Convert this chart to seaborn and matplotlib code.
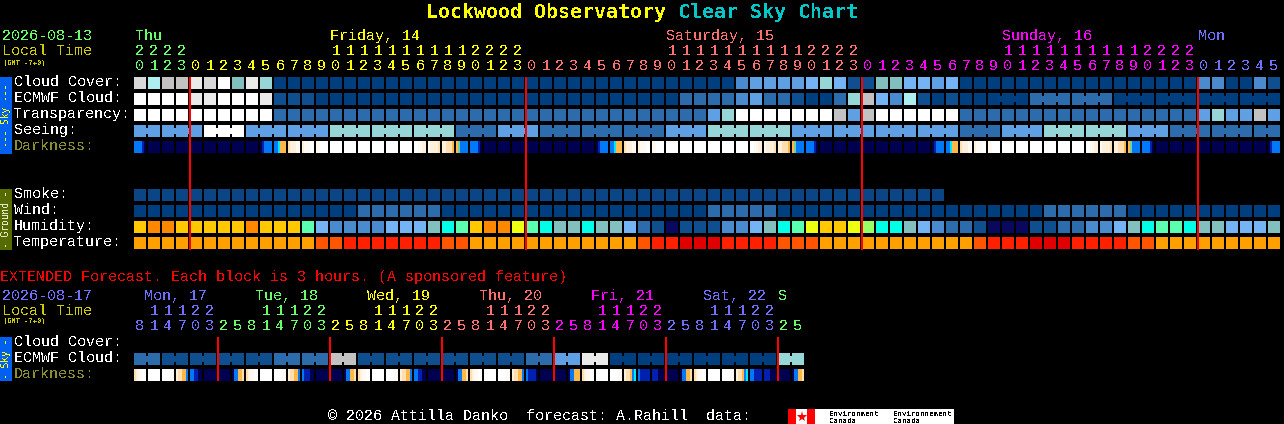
import matplotlib
matplotlib.use("Agg")
import matplotlib.pyplot as plt
from matplotlib.colors import ListedColormap
from matplotlib.patches import Rectangle
import numpy as np
import seaborn as sns

# Clear Sky Chart: every block is one code letter, see the palettes below
cloud_cover = """DAGGEDWKET QQQQQQQQQQ QQQQQQQQQQ QQQQQQQQQQ QQQNMMMMLT
LPPKKLLMLQ QQQQQQQQQQ QQQQQQNNQQ NP"""
ecmwf_cloud = """WWWWEEWWWE PPPQQQQQQQ QQQQQQQQQQ QQQQQQQQQO OOONMOOPQQ
OTGLNAPQPQ QQQQOOOOOO QQQQQQQQQQ QQ"""
transparency = """WWWWWWWWWW OOOOOOOOOO OOOOOOOOOO OOOOOOOOOO OMTWWWWWWW
GMGWWWWWWO OOOOOOOOOO OOOOOOMTMM GM"""
seeing = """MMMMMWWWMM MMMMTTTTTT TTTOOOMMMO OOOOOOOOMM MTTTTTTMMM
MMMMMMMMMO OOMMMTTTTT TMMMOOOOOO OO"""
smoke = """SSSSSSSSSS SSSSSSSSSS SSSSSSSSSS SSSSSSSSSS SSSSSSSSSS
SSSSSSSS.. .......... .......... .."""
wind = """QQQQQQQQQQ QQQQQQOOOO OOQQQQQQQQ QQQQQQQQQQ QOOOOOQQQQ
QQQQQQQQQQ QQQQQOOOOO OQQQQQQQQQ QQ"""
humidity = """yooyyyyyoy yygLNNNNLL LKcgyoolgc KKcKKLOPnP PPNNLKcgly
ylhccKLNOO PnnnPPOONN LKcggcKKLL LK"""
temperature = """aaaaaaaaaa aaabbrrrrr rrbbaaaaaa aaaaaabrrd ddrrrrbbba
aaaaaaaaaa brrrdddrrr rbbaaaaaaa aa"""

# darkness changes inside a block, so each block has six samples
darkness = """BBBBbn nnnnnn nnnnnn nnnnnn nnnnnn nnnnnn nnnnnn nnnnnn nnnnnn nbBBBB
BBcooo pqqqrr qrrrWW rrWWWW WWWWWW WWWWWW WWWWWW WWWWWW WWWWWW WWWWWW
WWrrqq rqqqqp qqpppo ogBBBB BBBBbn nnnnnn nnnnnn nnnnnn nnnnnn nnnnnn
nnnnnn nnnnnn nnnnnn nbBBBB BBcooo pqqqrr qrrrWW rrWWWW WWWWWW WWWWWW
WWWWWW WWWWWW WWWWWW WWWWWW WWrrqq rqqqqp qqpppo ogBBBB BBBBbn nnnnnn
nnnnnn nnnnnn nnnnnn nnnnnn nnnnnn nnnnnn nnnnnn nbBBBB BBcooo pqqqrr
qrrrWW rrWWWW WWWWWW WWWWWW WWWWWW WWWWWW WWWWWW WWWWWW WWrrqq rqqqqp
qqpppo ogBBBB BBBBbn nnnnnn nnnnnn nnnnnn nnnnnn nnnnnn nnnnnn nnnnnn
nnnnnn nbBBBB""".split()

ext_ecmwf = """OOPPPPPPPP OOOOGGPPPP PPPPPPPPOO MMEEQQQQQQ QQQQQQTT"""
ext_darkness = """pqrrWW WWWWWW WWWWrr qppooB BBbbnn nnnnnn nnnnnn nBBoop
pqrrWW WWWWWW WWWWrr qppooB Bbbbnn nnnnnn nnnnnn nBBoop
pqrrWW WWWWWW WWWWrr qppooB BBbbnn nnnnnn nnnnnn nBBoop
pqrrWW WWWWWW WWWWrr qppooB Bbbbbn nnnnnn nnnnnn nBBooo
pqrrWW WWWWWW WWWWrr qppoBc Bbbbbb bbbnnn nnnnnn nBBoop
pqrrWW WWWWWW WWWWrr qppoBc BBbbbb bbbnnn nnnnnn nBBoop""".split()

hour_tens = "2222          11111111112222          11111111112222          11111111112222      "
hour_ones = "0123012345678901234567890123012345678901234567890123012345678901234567890123012345"
ext_tens = " 11122   11122   11122   11122   11122   11122  "
ext_ones = "814703258147032581470325814703258147032581470325"

day_colours = ["#66ff66", "#ffff00", "#ff7070", "#ff00ff", "#7070ff"]
day_names = ["Thu", "Friday, 14", "Saturday, 15", "Sunday, 16", "Mon"]
day_starts = [0, 4, 28, 52, 76]
ext_colours = ["#7070ff", "#66ff66", "#ffff00", "#ff7070", "#ff00ff", "#7070ff", "#66ff66"]
ext_names = ["Mon, 17", "Tue, 18", "Wed, 19", "Thu, 20", "Fri, 21", "Sat, 22", "S"]
ext_starts = [0, 6, 14, 22, 30, 38, 46]
ext_name_x = [144, 255, 367, 479, 591, 703, 778]

midnights = [4, 28, 52, 76]
ext_midnights = [6, 14, 22, 30, 38, 46]

palette = {
    "W": "#ffffff", "E": "#eaeaea", "D": "#d8d8d8", "G": "#c2c2c2",
    "A": "#aeeeee", "T": "#96d6d6", "K": "#82bfbf", "L": "#74b4f4",
    "M": "#5fa0e4", "N": "#4a8acf", "O": "#2c6cac", "P": "#0f4f8f",
    "Q": "#003f7f", "S": "#0a4585",
    "y": "#ffc800", "o": "#ff8800", "g": "#5affb0", "c": "#00ffe6",
    "l": "#eeff10", "h": "#99ff66", "n": "#08085f",
    "a": "#ffa000", "b": "#ff5500", "r": "#ff2000", "d": "#e00000",
}
dark_palette = {
    "n": "#000050", "b": "#0020b0", "B": "#0078f8", "c": "#00e8ff",
    "g": "#70d0a0", "o": "#ffb848", "p": "#ffdfb0", "q": "#fff0dc",
    "r": "#fff9f2", "W": "#ffffff",
}

W, H = 1284, 424
X0, PITCH = 134, 14
PX = 72 / 100
FONT = "Liberation Mono"
TITLE_FONT = "DejaVu Sans Mono"

plt.rcParams["text.antialiased"] = False
plt.rcParams["font.family"] = FONT

fig = plt.figure(figsize=(W / 100, H / 100), dpi=100, facecolor="black")


def px_axes(left, top, width, height, zorder=1):
    ax = fig.add_axes([left / W, 1 - (top + height) / H, width / W, height / H], zorder=zorder)
    ax.set_facecolor("black")
    return ax


def draw_row(top, codes, bridge_start=None, bridge_size=None):
    codes = codes.replace(" ", "").replace("\n", "")
    keys = list(palette)
    values = [[keys.index(c) if c != "." else np.nan for c in codes]]
    ax = px_axes(X0 - 1, top - 1, PITCH * len(codes), 14)
    sns.heatmap(values, ax=ax, cmap=ListedColormap(list(palette.values())), vmin=-0.5,
                vmax=len(keys) - 0.5, cbar=False, linewidths=2 * PX, linecolor="black",
                xticklabels=False, yticklabels=False)
    # 3 hourly data: blocks of one group are joined by a small bar
    if bridge_start is not None:
        for k in range(1, len(codes)):
            if (k - bridge_start) % bridge_size != 0 and codes[k] == codes[k - 1] and k > bridge_start - bridge_size:
                ax.add_patch(Rectangle((k - 0.08, 0.28), 0.16, 0.44, lw=0,
                                       facecolor=palette[codes[k]], zorder=5))


def draw_dark_row(top, blocks):
    # six samples of 2 px and one empty column for the gap
    keys = list(dark_palette)
    values = []
    for b in blocks:
        values += [keys.index(c) for c in b] + [np.nan]
    ax = px_axes(X0, top, PITCH * len(blocks), 12)
    sns.heatmap([values], ax=ax, cmap=ListedColormap(list(dark_palette.values())), vmin=-0.5,
                vmax=len(keys) - 0.5, cbar=False, xticklabels=False, yticklabels=False)


draw_row(77, cloud_cover)
draw_row(93, ecmwf_cloud, 64, 3)
draw_row(109, transparency)
draw_row(125, seeing, 2, 3)
draw_dark_row(141, darkness)
draw_row(189, smoke)
draw_row(205, wind)
draw_row(221, humidity)
draw_row(237, temperature)
draw_row(353, ext_ecmwf, 0, 2)
draw_dark_row(369, ext_darkness)

# top layer in pixel units for the text and the red day lines
over = px_axes(0, 0, W, H, zorder=10)
over.patch.set_alpha(0)
over.set_xlim(0, W)
over.set_ylim(H, 0)
over.axis("off")


def label(x, y, s, color="white", px=15.08, family=FONT, **kw):
    over.text(x, y, s, color=color, fontsize=px * PX, family=family, va="baseline", **kw)


for m in midnights:
    over.vlines(X0 + PITCH * m, 77, 250, color="#ff0000", lw=2 * PX, zorder=6)
for m in ext_midnights:
    over.vlines(X0 + PITCH * m, 337, 381, color="#ff0000", lw=2 * PX, zorder=6)

# title
label(426, 18, "Lockwood Observatory", "#ffff00", 19.93, TITLE_FONT, fontweight="bold")
label(678, 18, "Clear Sky Chart", "#00c8c8", 19.93, TITLE_FONT, fontweight="bold")

# left header
label(2, 40, "2026-08-13", "#66ff66")
label(2, 55, "Local Time", "#cccc00")
label(3, 64, "(GMT -7+0)", "#cccc00", 7, TITLE_FONT)
for name, start, col, x in zip(day_names, day_starts, day_colours, [135, 330, 666, 1002, 1198]):
    label(x, 40, name, col)
for i, (t, o) in enumerate(zip(hour_tens, hour_ones)):
    col = day_colours[np.searchsorted(day_starts, i, side="right") - 1]
    cx = X0 + PITCH * i + 6
    label(cx, 55, t, col, ha="center")
    label(cx, 70, o, col, ha="center")

for y, s, col in [(86, "Cloud Cover:", "white"), (102, "ECMWF Cloud:", "white"), (118, "Transparency:", "white"),
                  (134, "Seeing:", "white"), (150, "Darkness:", "#8c8c30"), (198, "Smoke:", "white"),
                  (214, "Wind:", "white"), (230, "Humidity:", "white"), (246, "Temperature:", "white"),
                  (346, "Cloud Cover:", "white"), (362, "ECMWF Cloud:", "white"), (378, "Darkness:", "#8c8c30")]:
    label(14, y, s, col)

# side bars
over.add_patch(Rectangle((0, 77), 12, 77, lw=0, facecolor="#0060f0"))
over.add_patch(Rectangle((0, 189), 12, 61, lw=0, facecolor="#556b00"))
over.add_patch(Rectangle((0, 337), 12, 44, lw=0, facecolor="#0060f0"))
over.text(6, 115.5, "--- Sky ---", color="#ffff00", fontsize=9.6 * PX, family=TITLE_FONT, rotation=90, ha="center", va="center")
over.text(6, 219.5, "- Ground -", color="#e8e8c8", fontsize=9.6 * PX, family=TITLE_FONT, rotation=90, ha="center", va="center")
over.text(6, 359, "- Sky -", color="#ffff00", fontsize=9.6 * PX, family=TITLE_FONT, rotation=90, ha="center", va="center")

# extended forecast
label(0, 281, "EXTENDED Forecast. Each block is 3 hours. (A sponsored feature)", "#ff0000")
label(2, 300, "2026-08-17", "#7070ff")
label(2, 315, "Local Time", "#cccc00")
label(3, 323, "(GMT -7+0)", "#cccc00", 7, TITLE_FONT)
for name, col, x in zip(ext_names, ext_colours, ext_name_x):
    label(x, 300, name, col)
for i, (t, o) in enumerate(zip(ext_tens, ext_ones)):
    col = ext_colours[np.searchsorted(ext_starts, i, side="right") - 1]
    cx = X0 + PITCH * i + 6
    label(cx, 315, t, col, ha="center")
    label(cx, 330, o, col, ha="center")

# footer and logo
label(328, 420, "\u00a9 2026 Attilla Danko  forecast: A.Rahill  data:")
over.add_patch(Rectangle((788, 409), 166, 15, lw=0, facecolor="white"))
over.add_patch(Rectangle((788, 409), 8, 15, lw=0, facecolor="#ff0000"))
over.add_patch(Rectangle((807, 409), 8, 15, lw=0, facecolor="#ff0000"))
over.plot([801.5], [416.5], marker="*", ms=8, mew=0, color="#ff0000")
for x, a in [(829, "Environment"), (893, "Environnement")]:
    label(x, 416, a, "black", 7.5, TITLE_FONT)
    label(x, 423, "Canada", "black", 7.5, TITLE_FONT)

fig.savefig("out.png", dpi=100, facecolor="black")
